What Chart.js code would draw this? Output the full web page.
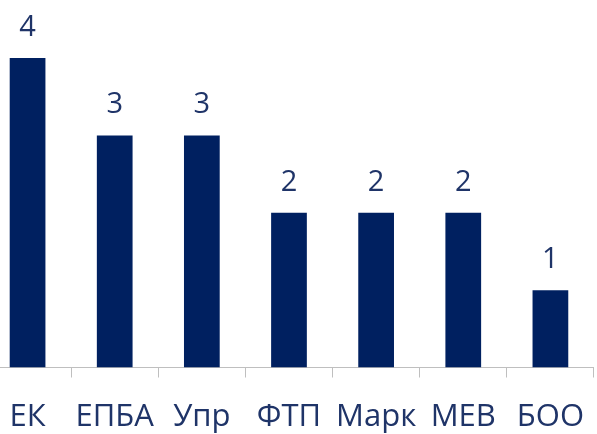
<!DOCTYPE html>
<html>
<head>
<meta charset="utf-8">
<script src="https://cdn.jsdelivr.net/npm/chart.js@4"></script>
<style>
  html, body { margin: 0; padding: 0; background: #fff; overflow: hidden; }
  #wrap { position: absolute; left: -16px; top: 0; width: 621px; height: 434px; }
</style>
</head>
<body>
<div id="wrap"><canvas id="chart"></canvas></div>
<script>
const categories = ["ЕК", "ЕПБА", "Упр", "ФТП", "Марк", "МЕВ", "БОО"];
const values = [4, 3, 3, 2, 2, 2, 1];

const barColor = "#002060";
const textColor = "#1f3468";

// draws the value above each bar
const valueLabels = {
  id: "valueLabels",
  afterDatasetsDraw(chart) {
    const ctx = chart.ctx;
    const meta = chart.getDatasetMeta(0);
    ctx.save();
    ctx.fillStyle = textColor;
    ctx.font = "29px 'Open Sans', sans-serif";
    ctx.textAlign = "center";
    ctx.textBaseline = "alphabetic";
    meta.data.forEach((bar, i) => {
      ctx.fillText(values[i], bar.x, bar.y - 22);
    });
    ctx.restore();
  }
};

new Chart(document.getElementById("chart"), {
  type: "bar",
  data: {
    labels: categories,
    datasets: [{
      data: values,
      backgroundColor: barColor,
      categoryPercentage: 1,
      barPercentage: 0.41
    }]
  },
  options: {
    responsive: true,
    maintainAspectRatio: false,
    animation: false,
    layout: { padding: 0 },
    plugins: {
      legend: { display: false },
      tooltip: { enabled: false }
    },
    scales: {
      y: {
        display: false,
        min: 0,
        max: 4.75
      },
      x: {
        afterFit(scale) { scale.height = 66.5; },
        border: { color: "#bfbfbf", width: 1 },
        grid: {
          drawOnChartArea: false,
          drawTicks: true,
          tickLength: 10,
          color: "#bfbfbf"
        },
        ticks: {
          color: textColor,
          font: { family: "'Open Sans', sans-serif", size: 31 },
          padding: 21,
          maxRotation: 0,
          autoSkip: false
        }
      }
    }
  },
  plugins: [valueLabels]
});
</script>
</body>
</html>
